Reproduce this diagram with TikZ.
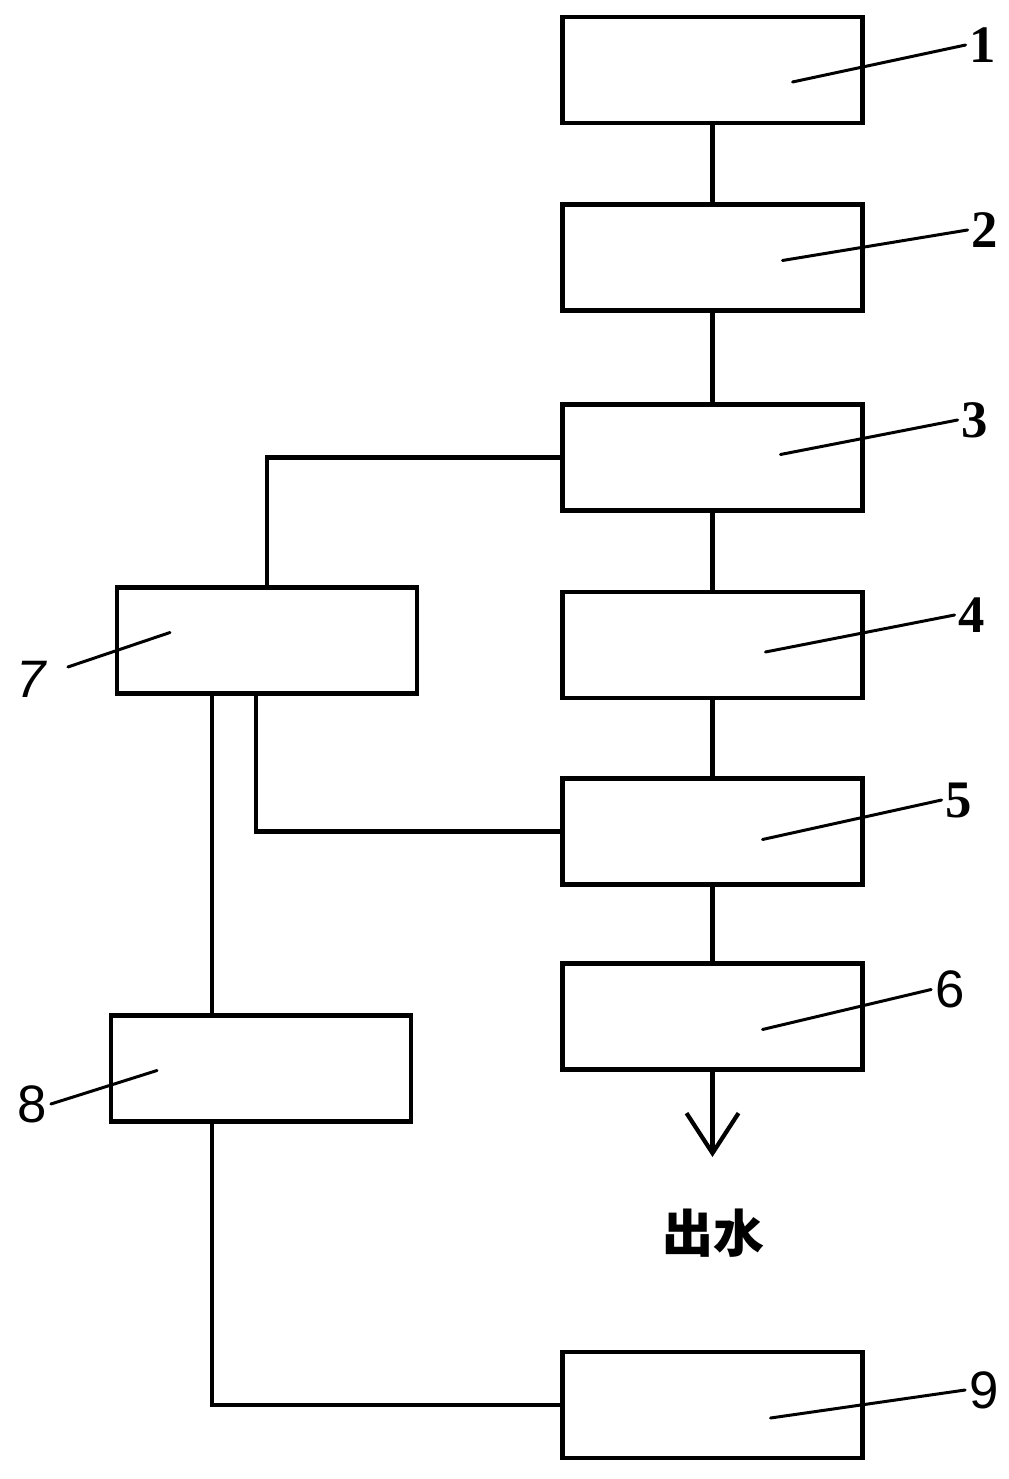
\documentclass[tikz,border=0pt]{standalone}
\usepackage{fontspec}
\setmainfont{Liberation Serif}
\newfontfamily\sansnum{Liberation Sans}
\newfontfamily\cjk{Noto Sans CJK SC}
\usepackage{tikz}
\usetikzlibrary{calc, arrows.meta}

\begin{document}
\begin{tikzpicture}[
		unit/.style = {draw, line width = 1.2pt, minimum width = 3.0cm, minimum height = 1.06cm, inner sep = 0pt, outer sep = 0pt},
		pipe/.style = {line width = 1.2pt},
		leader/.style = {line width = 0.85pt, line cap = round},
		num/.style = {inner sep = 1pt, font = \fontsize{15}{18}\selectfont\bfseries},
		snum/.style = {inner sep = 1pt, font = \fontsize{15}{18}\selectfont\sansnum}
	]
				\useasboundingbox (0,0) rectangle (10.08,-14.79);
				\node (b1) at (7.125,-0.70)[unit]{};
				\node (b2) at (7.125,-2.575)[unit]{};
				\node (b3) at (7.125,-4.575)[unit]{};
				\node (b4) at (7.125,-6.45)[unit]{};
				\node (b5) at (7.125,-8.315)[unit]{};
				\node (b6) at (7.125,-10.165)[unit]{};
				\node (b7) at (2.67,-6.405)[unit]{};
				\node (b8) at (2.61,-10.685)[unit]{};
				\node (b9) at (7.125,-14.05)[unit]{};
				\coordinate (out) at (7.125,-11.57);
				\node (water) at (7.13,-12.33)[inner sep = 0pt, font = \fontsize{14.5}{17}\selectfont\cjk\bfseries]{出水};
				
				\draw[pipe] (b1)--(b2)--(b3)--(b4)--(b5)--(b6);
				\draw[pipe, -{Straight Barb[length = 0.4cm, width = 0.52cm]}] (b6.south)--(out);
				\draw[pipe] (b3.west) -| (b7.north);
				\draw[pipe] ([xshift = -0.11cm]b7.south) |- (b5.west);
				\draw[pipe] ([xshift = -0.55cm]b7.south) -- ([xshift = -0.55cm]b7.south |- b8.north);
				\draw[pipe] ([xshift = -0.49cm]b8.south) |- (b9.west);
				
				\node (l1) at (9.83,-0.45)[num]{1};
				\node (l2) at (9.85,-2.30)[num]{2};
				\node (l3) at (9.75,-4.20)[num]{3};
				\node (l4) at (9.72,-6.15)[num]{4};
				\node (l5) at (9.59,-8.00)[num]{5};
				\node (l6) at (9.50,-9.895)[snum]{6};
				\node (l7) at (0.31,-6.79)[snum, font = \fontsize{15}{18}\selectfont\sansnum\itshape]{7};
				\node (l8) at (0.32,-11.04)[snum]{8};
				\node (l9) at (9.84,-13.90)[snum]{9};
				
				\draw[leader] ($(b1)+(0.80,-0.12)$)--(l1.west);
				\draw[leader] ($(b2)+(0.70,-0.03)$)--(l2.west);
				\draw[leader] ($(b3)+(0.68,0.03)$)--(l3.west);
				\draw[leader] ($(b4)+(0.53,-0.07)$)--(l4.west);
				\draw[leader] ($(b5)+(0.50,-0.08)$)--(l5.west);
				\draw[leader] ($(b6)+(0.50,-0.13)$)--(l6.west);
				\draw[leader] ([xshift = 0.18cm, yshift = 0.12cm]l7.east)--($(b7)+(-0.97,0.08)$);
				\draw[leader] (l8.east)--($(b8)+(-1.04,-0.02)$);
				\draw[leader] ($(b9)+(0.58,-0.13)$)--(l9.west);
			\end{tikzpicture}
\end{document}
